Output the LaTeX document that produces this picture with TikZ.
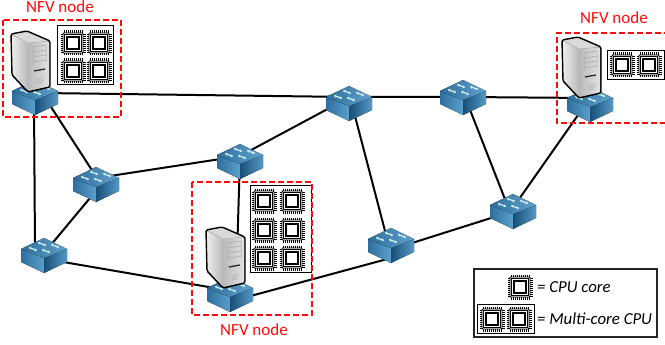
\documentclass[tikz,border=0pt]{standalone}
\usepackage{fontspec}
\usetikzlibrary{arrows.meta}
\setmainfont{Carlito}
\definecolor{nfvred}{HTML}{FF0A0A}
\definecolor{swtopA}{HTML}{2F6E9C}
\definecolor{swtopB}{HTML}{5FA2CB}
\definecolor{swleftA}{HTML}{2E6E9E}
\definecolor{swleftB}{HTML}{5AA0CA}
\definecolor{swrightA}{HTML}{174F78}
\definecolor{swrightB}{HTML}{559AC6}
\tikzset{
  link/.style={line width=2pt,black},
  nfvbox/.style={draw=nfvred,line width=2pt,dash pattern=on 6pt off 3pt},
  nfvlabel/.style={text=nfvred,font=\fontsize{17}{18}\selectfont,inner sep=0pt},
  cpuframe/.style={draw=black,line width=0.9pt,fill=white},
  legendtext/.style={font=\fontsize{16.8}{18}\selectfont\itshape,inner sep=0pt,anchor=west},
  swarrow/.style={white!85!cyan,line width=1.2pt,{Stealth[length=2.2pt,width=3.4pt]}-{Stealth[length=2.2pt,width=3.4pt]}},
  chip/.pic={
    \foreach \d in {-9,-7,-5,-3,-1,1,3,5,7,9}{
      \draw[line width=0.7pt,black] (\d,-12.5) -- (\d,12.5);
      \draw[line width=0.7pt,black] (-12.5,\d) -- (12.5,\d);
    }
    \draw[line width=0.8pt,fill=white,rounded corners=0.8pt] (-10,-10) rectangle (10,10);
    \draw[line width=0.9pt,fill=white] (-8.7,-8.7) rectangle (8.7,8.7);
    \draw[line width=1.3pt,fill=white] (-6,-6) rectangle (6,6);
  },
  switchicon/.pic={
    \fill[left color=swleftA,right color=swleftB] (-23,0) -- (0,9) -- (0,24) -- (-23,13) -- cycle;
    \fill[left color=swrightA,right color=swrightB] (0,9) -- (23,0) -- (23,13) -- (0,24) -- cycle;
    \fill[left color=swtopA,right color=swtopB] (-23,0) -- (0,-11) -- (23,0) -- (0,9) -- cycle;
    \draw[swarrow] (-15,-1.5) -- (-7,1.5);
    \draw[swarrow] (-6,-6.5) -- (2,-3.5);
    \draw[swarrow] (7,-4.5) -- (15,-1.5);
    \draw[swarrow] (-2,0.5) -- (6,3.5);
  },
  servericon/.pic={
    \fill[gray!50] (0,1) -- (16,-2) -- (39,8) -- (39,54) -- (17,59) -- (1,42) -- cycle;
    \fill[left color=white!85!gray,right color=gray!55] (1,2) -- (17,10) -- (17,58) -- (1.5,41.5) -- cycle;
    \fill[left color=gray!55,right color=gray!22] (17,10) -- (38.5,8) -- (38.5,53.5) -- (17,58.5) -- cycle;
    \fill[gray!30] (0.6,1) -- (16,-1.4) -- (38.4,8) -- (17,10) -- cycle;
    \draw[gray!60,line width=0.4pt] (0,1) -- (17,10) -- (39,8) (17,10) -- (17,59);
    \draw[gray!70,line width=0.5pt] (22,14) -- (35,12) (22,19) -- (35,17) (22,24) -- (35,22) (22,29) -- (35,27) (22,14) -- (22,32) (35,12) -- (35,29);
    \draw[gray!35!black,line width=1.3pt] (23,38) -- (34,36);
    \draw[gray!60,line width=0.6pt] (25,47) -- (33,45.5) (25,49) -- (33,47.5) (26,51) -- (32,49.8);
    \draw[line width=1.4pt,rounded corners=1.5pt] (0,1) -- (16,-2) -- (39,8) -- (39,54) -- (17,59) -- (1,42) -- cycle;
  }
}
\begin{document}
\begin{tikzpicture}[x=1pt,y=-1pt]
\useasboundingbox[fill=white] (0,0) rectangle (665,345);
% link anchors of the switches
\coordinate (a) at (42,93);
\coordinate (aj) at (34,100);
\coordinate (b) at (97,178);
\coordinate (bs) at (100,186);
\coordinate (c) at (240,156);
\coordinate (d) at (350,97);
\coordinate (e) at (465,97);
\coordinate (f) at (590,98);
\coordinate (g) at (510,212);
\coordinate (h) at (390,250);
\coordinate (hi) at (391,258);
\coordinate (i) at (232,291);
\coordinate (ic) at (236,290);
\coordinate (ih) at (232,301);
\coordinate (j) at (40,258);
\coordinate (jt) at (35,250);
\draw[link] (a) -- (d) (d) -- (e) (e) -- (f) (aj) -- (jt) (a) -- (b) (b) -- (c) (c) -- (d)
  (bs) -- (j) (j) -- (i) (c) -- (ic) (d) -- (h) (hi) -- (ih) (h) -- (g) (e) -- (g) (g) -- (f);
\foreach \px/\py in {35/91,96/178,240/155,349/97,463/91,590/98,513/205,391/239,230/288,44/249}{\pic at (\px,\py) {switchicon};}
\pic at (11,33) {servericon};
\pic at (206,229) {servericon};
\pic at (562,39) {servericon};
\draw[cpuframe] (57,25) rectangle (113,84);
\foreach \px/\py in {73/43,99/43,73/71,99/71}{\pic at (\px,\py) {chip};}
\draw[cpuframe] (250,185) rectangle (311,272);
\foreach \px/\py in {264/201,292/201,264/230,292/230,264/258,292/258}{\pic at (\px,\py) {chip};}
\draw[cpuframe] (607,50) rectangle (664,79);
\foreach \px/\py in {622/65,649/65}{\pic at (\px,\py) {chip};}
\draw[nfvbox] (3,20) rectangle (121,117);
\draw[nfvbox] (192,182) rectangle (312,315);
\draw[nfvbox] (670,33) -- (557,33) -- (557,123) -- (670,123);
\node[nfvlabel] (l1) at (60,7) {NFV node};
\node[nfvlabel] (l2) at (254,330) {NFV node};
\node[nfvlabel] (l3) at (614,18) {NFV node};
\draw[line width=1.1pt,black!85] (474,269) rectangle (657,337);
\pic at (520,287) {chip};
\draw[cpuframe] (477,304) rectangle (534,333);
\pic at (492,319) {chip};
\pic at (519,319) {chip};
\node[legendtext] (t1) at (537,287) {= CPU core};
\node[legendtext] (t2) at (537,319) {= Multi-core CPU};
\end{tikzpicture}
\end{document}
